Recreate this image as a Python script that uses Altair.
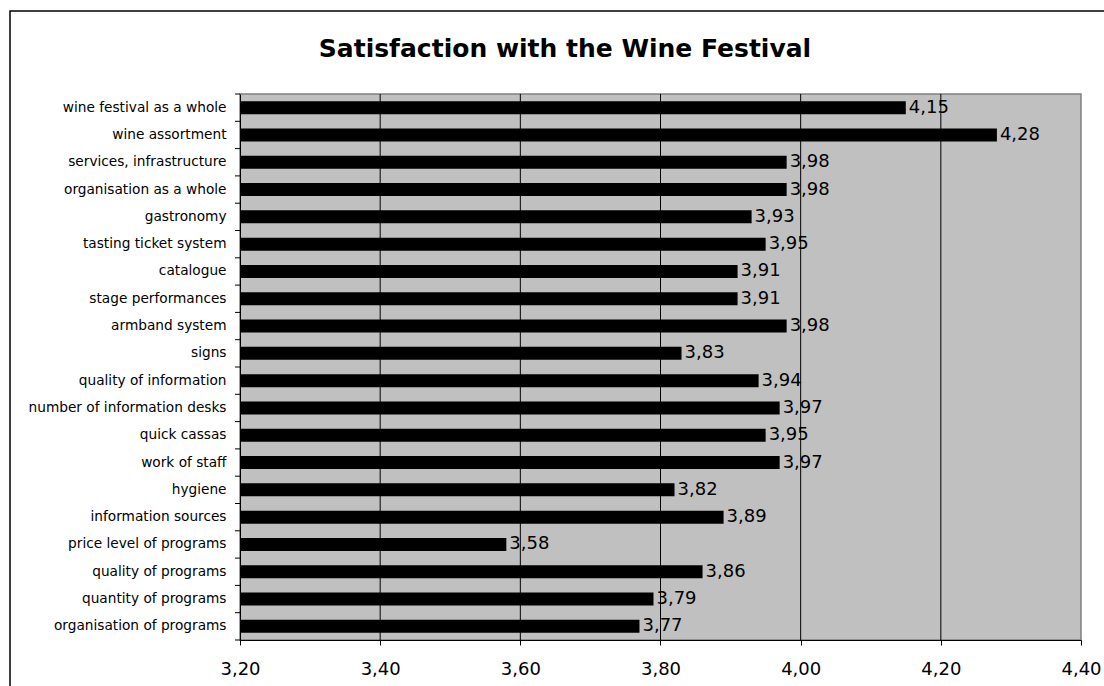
import altair as alt
import pandas as pd

# Survey items, listed top to bottom, and their mean satisfaction scores
categories = [
    "wine festival as a whole",
    "wine assortment",
    "services, infrastructure",
    "organisation as a whole",
    "gastronomy",
    "tasting ticket system",
    "catalogue",
    "stage performances",
    "armband system",
    "signs",
    "quality of information",
    "number of information desks",
    "quick cassas",
    "work of staff",
    "hygiene",
    "information sources",
    "price level of programs",
    "quality of programs",
    "quantity of programs",
    "organisation of programs",
]
scores = [4.15, 4.28, 3.98, 3.98, 3.93, 3.95, 3.91, 3.91, 3.98, 3.83,
          3.94, 3.97, 3.95, 3.97, 3.82, 3.89, 3.58, 3.86, 3.79, 3.77]

x_ticks = [3.20, 3.40, 3.60, 3.80, 4.00, 4.20, 4.40]
grid_values = [3.40, 3.60, 3.80, 4.00, 4.20]
x_min, x_max = 3.20, 4.40

title_text = "Satisfaction with the Wine Festival"

df = pd.DataFrame({"item": categories, "score": scores})
df["label"] = [f"{v:.2f}".replace(".", ",") for v in scores]

FONT = "DejaVu Sans"
PLOT_W, PLOT_H = 841, 546
PAD_L, PAD_T = 240, 94

y_enc = alt.Y(
    "item:N",
    sort=None,
    scale=alt.Scale(paddingInner=0, paddingOuter=0),
    axis=alt.Axis(
        title=None,
        ticks=False,
        labelPadding=14,
        labelFont=FONT,
        labelFontSize=13.7,
        labelColor="black",
        labelLimit=300,
        domainColor="black",
        domainWidth=1,
        grid=False,
    ),
)

x_scale = alt.Scale(domain=[x_min, x_max], zero=False, nice=False)
x_enc = alt.X(
    "score:Q",
    scale=x_scale,
    axis=alt.Axis(
        title=None,
        values=x_ticks,
        grid=False,
        tickSize=5,
        tickColor="black",
        domainColor="black",
        labelPadding=15,
        labelFlush=False,
        labelOverlap=False,
        labelFont=FONT,
        labelFontSize=18,
        labelColor="black",
        labelExpr="replace(format(datum.value, '.2f'), '.', ',')",
    ),
)

base = alt.Chart(df)

grid = alt.Chart(pd.DataFrame({"g": grid_values})).mark_rule(
    color="black", strokeWidth=1
).encode(x=alt.X("g:Q", scale=x_scale))

bars = base.mark_bar(color="black", size=13).encode(
    y=y_enc,
    x=x_enc,
    x2=alt.datum(x_min),
)

labels = base.mark_text(
    align="left", baseline="middle", dx=3, font=FONT, fontSize=18, color="black"
).encode(y=alt.Y("item:N", sort=None), x=alt.X("score:Q", scale=x_scale), text="label:N")

# category separator ticks on the left axis
ticks_top = base.mark_rule(color="black").encode(
    y=alt.Y("item:N", sort=None, bandPosition=0),
    x=alt.value(-5),
    x2=alt.value(0),
)
ticks_bottom = base.transform_filter(
    alt.datum.item == categories[-1]
).mark_rule(color="black").encode(
    y=alt.Y("item:N", sort=None, bandPosition=1),
    x=alt.value(-5),
    x2=alt.value(0),
)

one = pd.DataFrame({"k": [0]})
frame = alt.Chart(one).mark_rect(
    fill=None, fillOpacity=0, stroke="black", strokeWidth=1.5
).encode(
    x=alt.value(10 - PAD_L),
    x2=alt.value(1120 - PAD_L),
    y=alt.value(11 - PAD_T),
    y2=alt.value(720 - PAD_T),
)

title = alt.Chart(one).mark_text(
    text=title_text,
    font=FONT,
    fontSize=25,
    fontWeight="bold",
    align="center",
    baseline="alphabetic",
    color="black",
).encode(x=alt.value(565 - PAD_L), y=alt.value(57 - PAD_T))

chart = (
    alt.layer(grid, bars, labels, ticks_top, ticks_bottom, frame, title)
    .properties(
        width=PLOT_W,
        height=PLOT_H,
        autosize=alt.AutoSizeParams(type="none"),
        padding={"left": PAD_L, "top": PAD_T, "right": 1104 - PAD_L - PLOT_W, "bottom": 686 - PAD_T - PLOT_H},
        background="white",
    )
    .configure_view(fill="#C0C0C0", stroke="#808080", strokeWidth=1.5)
)

chart.save("out.html", embed_options={"renderer": "svg", "actions": False})
